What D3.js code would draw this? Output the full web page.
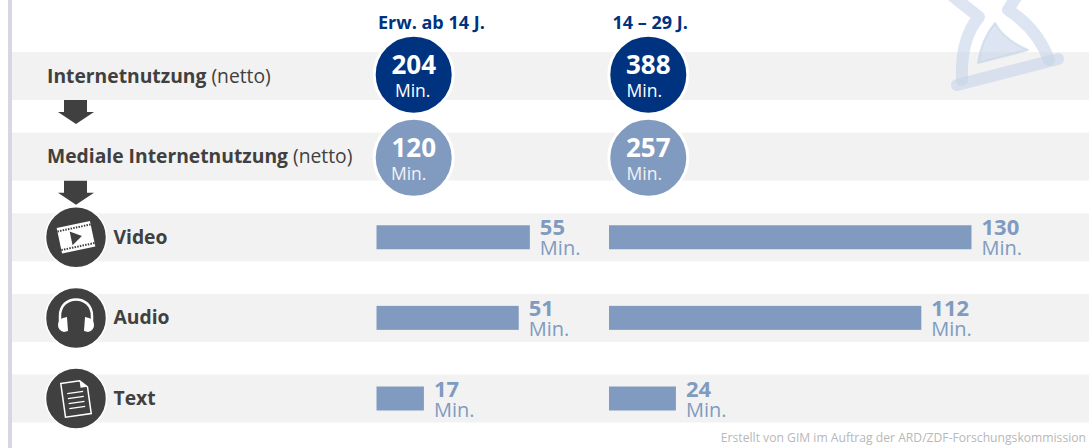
<!DOCTYPE html>
<html>
<head>
<meta charset="utf-8">
<script src="https://cdnjs.cloudflare.com/ajax/libs/d3/7.8.5/d3.min.js"></script>
<style>
    html, body { margin: 0; padding: 0; background: #fff; }
    svg { display: block; }
    text { font-family: "Open Sans", sans-serif; }
</style>
</head>
<body>
<div id="chart"></div>
<script>
const groups = ["Erw. ab 14 J.", "14 – 29 J."];
const totalRow = ["Internetnutzung", "(netto)"];
const mediaRow = ["Mediale Internetnutzung", "(netto)"];
const totals = [204, 388];
const mediaTotals = [120, 257];
const categories = ["Video", "Audio", "Text"];
const adults = [55, 51, 17];
const young = [130, 112, 24];
const unit = "Min.";
const credit = "Erstellt von GIM im Auftrag der ARD/ZDF-Forschungskommission";

const dark = "#00337f", light = "#819bc0", ink = "#404040", band = "#f2f2f2";

const svg = d3.select("#chart").append("svg")
    .attr("width", 1089)
    .attr("height", 448);

// rows: two circle rows, then the three bar rows
const rows = ["total", "media", ...categories];
const y = d3.scalePoint().domain(rows).range([76, 398.5]);
const bandHeight = 48;
const groupX = d3.scaleOrdinal().domain(groups).range([376.5, 609]);
const x = d3.scaleLinear().domain([0, 130]).range([0, 362.5]);

// sidebar and grey bands
svg.append("rect").attr("x", 8).attr("y", 0).attr("width", 4).attr("height", 448).attr("fill", "#d6d6e4");
svg.selectAll("rect.band").data(rows).join("rect")
    .attr("class", "band")
    .attr("x", 12)
    .attr("y", d => y(d) - bandHeight / 2)
    .attr("width", 1077)
    .attr("height", bandHeight)
    .attr("fill", band);

// hourglass in the background
const glass = svg.append("g").attr("fill", "none").attr("stroke", "#c4d4e8")
    .attr("stroke-opacity", 0.6).attr("stroke-linecap", "round").attr("stroke-linejoin", "round");
glass.append("path").attr("d", "M957 85L1058 59").attr("stroke-width", 12);
glass.append("path").attr("d", "M962 80C961 55 966 32 979 17L950 -6").attr("stroke-width", 12);
glass.append("path").attr("d", "M1049 60C1040 36 1024 20 1008 10L1018 -6").attr("stroke-width", 12);
svg.append("path").attr("d", "M995 23C1002 36 1014 44 1028 50L978 63C980 48 986 34 995 23Z")
    .attr("fill", "#c4d4e8").attr("fill-opacity", 0.6)
    .attr("stroke", "#c4d4e8").attr("stroke-opacity", 0.6).attr("stroke-width", 2).attr("stroke-linejoin", "round");

// column headers
svg.selectAll("text.group").data(groups).join("text")
    .attr("class", "group")
    .attr("x", d => groupX(d) + (d === groups[0] ? 1.5 : 3.5))
    .attr("y", 29)
    .attr("font-size", 18)
    .attr("font-weight", 700)
    .attr("fill", dark)
    .text(d => d);

// row labels
[[totalRow, "total"], [mediaRow, "media"]].forEach(([label, row]) => {
    const t = svg.append("text").attr("x", 47).attr("y", y(row) + 6.5).attr("font-size", 19.3).attr("fill", ink);
    t.append("tspan").attr("font-weight", 700).text(label[0]);
    t.append("tspan").text(" " + label[1]);
});

// flow arrows
[y("total") + 24, y("media") + 24].forEach(top => {
    svg.append("path")
        .attr("d", `M64 ${top}H87V${top + 12}H94L76 ${top + 24}L58 ${top + 12}H64Z`)
        .attr("fill", ink);
});

// circles with totals, the unit sits a little left of centre
function circleRow(values, row, fill, minColor, minShift) {
    const g = svg.selectAll(null).data(values).join("g")
        .attr("transform", (d, i) => `translate(${groupX(groups[i]) + (i ? 39.3 : 37.2)},${y(row) + (row === "total" ? -1.3 : 1.2)})`);
    g.append("circle").attr("r", 39.5).attr("fill", fill).attr("stroke", "#fff").attr("stroke-width", 3);
    g.append("text").attr("text-anchor", "middle").attr("y", -0.7).attr("font-size", 26).attr("font-weight", 700)
        .attr("fill", "#fff").text(d => d);
    g.append("text").attr("x", (d, i) => minShift[i]).attr("text-anchor", "middle").attr("y", 22).attr("font-size", 17.5)
        .attr("fill", minColor).text(unit);
}
circleRow(totals, "total", dark, "#fff", [-1, -4]);
circleRow(mediaTotals, "media", light, "#f2f2f2", [-5, -4]);

// bars and value labels
[adults, young].forEach((values, s) => {
    const x0 = groupX(groups[s]);
    svg.selectAll(null).data(values).join("rect")
        .attr("x", x0)
        .attr("y", (d, i) => y(categories[i]) - 12)
        .attr("width", d => x(d))
        .attr("height", 24)
        .attr("fill", light);
    const lab = svg.selectAll(null).data(values).join("g")
        .attr("transform", (d, i) => `translate(${x0 + x(d) + 10},${y(categories[i])})`)
        .attr("fill", light);
    lab.append("text").attr("y", -2).attr("font-size", 22).attr("font-weight", 700).text(d => d);
    lab.append("text").attr("y", 18).attr("font-size", 20).text(unit);
});

// category icons
const iconG = svg.selectAll(null).data(categories).join("g")
    .attr("transform", d => `translate(76,${y(d)})`);
iconG.append("circle").attr("r", 30.5).attr("fill", ink).attr("stroke", "#fff").attr("stroke-width", 1.5);
iconG.append("text").attr("x", 37.5).attr("y", 6.5).attr("font-size", 19.3).attr("font-weight", 700).attr("fill", ink).text(d => d);

// film strip
const film = iconG.filter(d => d === "Video").append("g").attr("transform", "rotate(-12)");
film.append("rect").attr("x", -17).attr("y", -13).attr("width", 34).attr("height", 26).attr("fill", "#fff");
film.append("path").attr("d", "M-17 -9.5H17M-17 9.5H17").attr("stroke", ink).attr("stroke-width", 2).attr("stroke-dasharray", "1.5 1.2");
film.append("path").attr("d", "M-5 -7L6 0L-5 7Z").attr("fill", ink);

// headphones
const phones = iconG.filter(d => d === "Audio").append("g");
phones.append("path").attr("d", "M-16 6V-2C-16 -24 16 -24 16 -2V6")
    .attr("fill", "none").attr("stroke", "#fff").attr("stroke-width", 2.5);
phones.append("path").attr("d", "M-13 0L-9 -1L-8 13L-12 14C-16 13 -18 10 -18 7C-18 4 -16 1 -13 0Z").attr("fill", "#fff");
phones.append("path").attr("d", "M13 0L9 -1L8 13L12 14C16 13 18 10 18 7C18 4 16 1 13 0Z").attr("fill", "#fff");

// document
const doc = iconG.filter(d => d === "Text").append("g").attr("transform", "rotate(-8)");
doc.append("path").attr("d", "M-13 -17H6L13 -10V17H-13Z").attr("fill", "none").attr("stroke", "#fff").attr("stroke-width", 1.5);
doc.append("path").attr("d", "M6 -17V-10H13Z").attr("fill", "#fff");
doc.append("path").attr("d", "M-8 -6H8M-8 -1H8M-8 4H8M-8 9H8").attr("stroke", "#fff").attr("stroke-width", 1.3);

// footer credit
svg.append("text")
    .attr("x", 1086)
    .attr("y", 442)
    .attr("text-anchor", "end")
    .attr("font-size", 12.15)
    .attr("fill", "#b8b8b8")
    .text(credit);
</script>
</body>
</html>
